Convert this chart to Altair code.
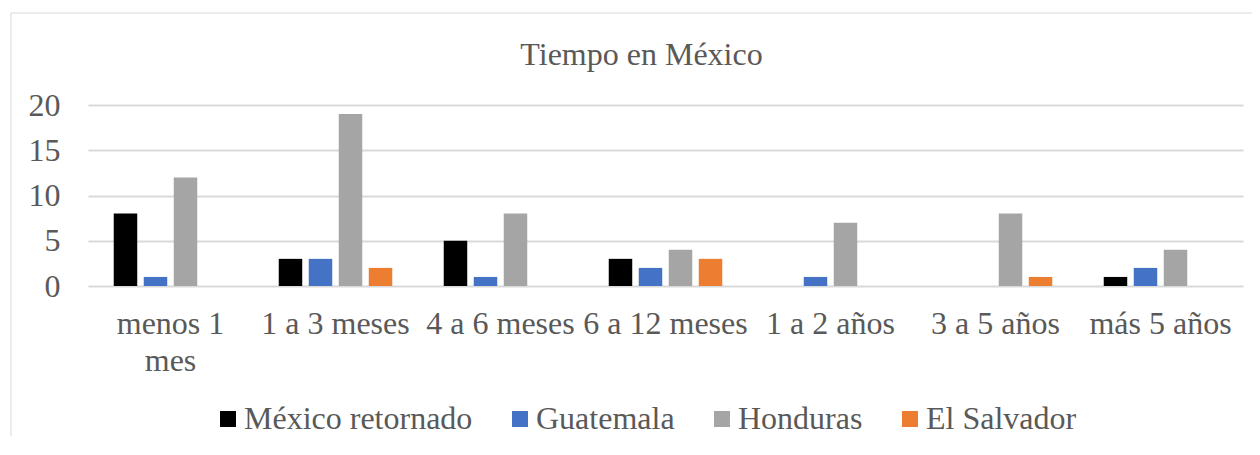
import altair as alt
import pandas as pd

categories = ["menos 1 mes", "1 a 3 meses", "4 a 6 meses", "6 a 12 meses",
              "1 a 2 años", "3 a 5 años", "más 5 años"]
series = ["México retornado", "Guatemala", "Honduras", "El Salvador"]
mexico = [8, 3, 5, 3, 0, 0, 1]
guatemala = [1, 3, 1, 2, 1, 0, 2]
honduras = [12, 19, 8, 4, 7, 8, 4]
salvador = [0, 2, 0, 3, 0, 1, 0]
colors = ["#000000", "#4472C4", "#A5A5A5", "#ED7D31"]

rows = []
for name, vals in zip(series, [mexico, guatemala, honduras, salvador]):
    for c, v in zip(categories, vals):
        rows.append({"cat": c, "serie": name, "valor": v})
df = pd.DataFrame(rows)

FONT = "'Times New Roman', 'Liberation Serif', 'DejaVu Serif', serif"
TXT = "#595959"

bars = alt.Chart(df).mark_bar().encode(
    x=alt.X("cat:N", sort=categories, title=None,
            scale=alt.Scale(paddingInner=0.312, paddingOuter=0.156),
            axis=alt.Axis(labelAngle=0, domain=False, ticks=False, labelOverlap=False,
                          labelBound=False, labelPadding=22, labelLineHeight=37,
                          labelBaseline="top", labelLimit=0,
                          labelExpr="datum.label == 'menos 1 mes' ? ['menos 1', 'mes'] : datum.label")),
    xOffset=alt.XOffset("serie:N", sort=series,
                        scale=alt.Scale(paddingInner=0.217, paddingOuter=0)),
    y=alt.Y("valor:Q", title=None,
            scale=alt.Scale(domain=[0, 20], nice=False),
            axis=alt.Axis(values=[0, 5, 10, 15, 20], domain=False, ticks=False,
                          labelPadding=28, gridColor="#D9D9D9", gridWidth=2)),
    color=alt.Color("serie:N", sort=series, title=None,
                    scale=alt.Scale(domain=series, range=colors),
                    legend=alt.Legend(orient="none", direction="horizontal",
                                      legendX=124, legendY=298,
                                      symbolType="square", symbolSize=256,
                                      symbolStrokeWidth=0, labelOffset=0,
                                      columnPadding=31, labelFontSize=32,
                                      labelLimit=0,
                                      labelFont=FONT, labelColor=TXT)),
)

frame = alt.Chart(pd.DataFrame({"a": [0]})).mark_rect(
    fill=None, stroke="#D9D9D9", strokeWidth=1
).encode(
    x=alt.value(-77), x2=alt.value(1200), y=alt.value(-92), y2=alt.value(400)
)

chart = alt.layer(frame, bars).properties(
    width=1155, height=181,
    title=alt.TitleParams("Tiempo en México", font=FONT, fontSize=32, fontWeight="normal",
                          color=TXT, anchor="middle", dx=-24, offset=-59),
    autosize=alt.AutoSizeParams(type="none"),
    padding={"left": 80, "top": 97, "right": 9, "bottom": 150},
).configure_view(stroke=None).configure_axis(
    labelFont=FONT, labelFontSize=32, labelColor=TXT
)

chart.save("out.html", embed_options={"renderer": "svg", "actions": False})
